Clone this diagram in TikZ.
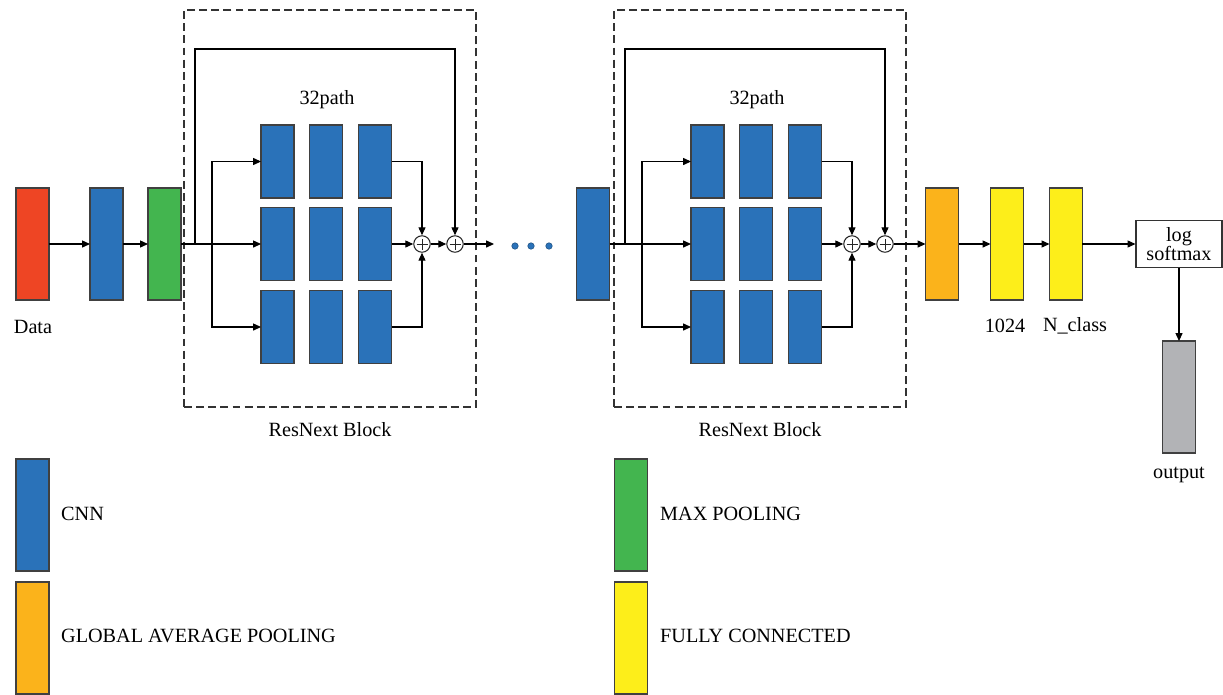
\documentclass[tikz,border=0pt]{standalone}
\usepackage{fontspec}
\setmainfont{Liberation Serif}
\usetikzlibrary{arrows.meta, positioning}
\definecolor{datared}{HTML}{EE4524}
\definecolor{cnnblue}{HTML}{2A72B9}
\definecolor{poolgreen}{HTML}{43B54F}
\definecolor{gaporange}{HTML}{FBB31B}
\definecolor{fcyellow}{HTML}{FDEE1A}
\definecolor{outgray}{HTML}{B2B3B6}
\tikzset{
  layer/.style  ={rectangle, draw=black!75, line width=0.6pt, outer sep=0pt,
                  minimum width=0.66cm, minimum height=2.24cm, inner sep=0pt},
  cell/.style   ={layer, fill=cnnblue, minimum height=1.46cm},
  sumnode/.style={circle, draw=black!85, line width=0.6pt, fill=white,
                  minimum size=0.33cm, inner sep=0pt,
                  path picture={\draw[line width=0.5pt]
                    ([xshift=-0.11cm]path picture bounding box.center) --
                    ([xshift=0.11cm]path picture bounding box.center)
                    ([yshift=-0.11cm]path picture bounding box.center) --
                    ([yshift=0.11cm]path picture bounding box.center);}},
  blockbox/.style={rectangle, draw=black!80, line width=0.7pt,
                  dash pattern=on 4.5pt off 2.4pt,
                  minimum width=5.84cm, minimum height=7.94cm, inner sep=0pt},
  softbox/.style={rectangle, draw=black!80, line width=0.6pt, align=center,
                  minimum width=1.72cm, minimum height=0.94cm, inner sep=1pt,
                  font=\fontsize{11.5}{11}\selectfont},
  dotnode/.style={circle, fill=cnnblue, draw=cnnblue!70!black, line width=0.3pt,
                  minimum size=0.13cm, inner sep=0pt},
  arr/.style    ={-{Triangle[length=4.5pt, width=4pt]}, line width=0.6pt}
}
\begin{document}
\begin{tikzpicture}[x=0.02cm, y=-0.02cm, font=\fontsize{11.5}{13}\selectfont]
  \useasboundingbox (0,0) rectangle (1223,694);
  % input chain
  \node[layer, fill=datared] (data) at (32.5,244) {};
  \node[layer, fill=cnnblue, right=0.82cm of data] (conv1) {};
  \node[layer, fill=poolgreen, right=0.5cm of conv1] (pool) {};
  \node (datalbl) at (33,327) {Data};
  \draw[arr] (data) -- (conv1);
  \draw[arr] (conv1) -- (pool);

  % two resnext blocks
  \foreach \b/\ox in {1/0, 2/430} {
    \begin{scope}[shift={(\ox,0)}]
      \node[blockbox] (blk\b) at (330,208.5) {};
      \node (blklbl\b) at (330,430) {ResNext Block};
      \node (path\b) at (327,100) {32path};
      \foreach \r/\y in {1/161.5, 2/244, 3/327}
        \foreach \c/\x in {1/277.5, 2/326, 3/375}
          \node[cell] (c\b\r\c) at (\x,\y) {};
      \node[sumnode] (sa\b) at (422,244) {};
      \node[sumnode] (sb\b) at (455,244) {};
      \coordinate (sk\b) at (195,244);
      \coordinate (br\b) at (212,244);
      \coordinate (top\b) at (195,49);
      \draw[arr] (br\b) |- (c\b11);
      \draw[arr] (br\b) |- (c\b31);
      \draw[arr] (c\b13) -| (sa\b);
      \draw[arr] (c\b23) -- (sa\b);
      \draw[arr] (c\b33) -| (sa\b);
      \draw[arr] (sa\b) -- (sb\b);
      \draw[arr] (sk\b) -- (top\b) -| (sb\b);
    \end{scope}
  }
  \draw[arr] (pool) -- (c121);

  % between the blocks
  \coordinate (gapend) at (494,244);
  \draw[arr] (sb1) -- (gapend);
  \foreach \i/\x in {1/515, 2/531, 3/549}
    \node[dotnode] (dot\i) at (\x,246) {};
  \node[layer, fill=cnnblue] (conv2) at (593,244) {};
  \draw[arr] (conv2) -- (c221);

  % head
  \node[layer, fill=gaporange] (gap) at (942,244) {};
  \node[layer, fill=fcyellow, right=0.64cm of gap] (fc1) {};
  \node[layer, fill=fcyellow, right=0.52cm of fc1] (fc2) {};
  \node[softbox] (soft) at (1179,244) {log\\softmax};
  \node[layer, fill=outgray, below=1.46cm of soft] (out) {};
  \node (fc1lbl) at (1005,326) {1024};
  \node (fc2lbl) at (1075,326) {N\_class};
  \node (outlbl) at (1179,475) {output};
  \draw[arr] (sb2) -- (gap);
  \draw[arr] (gap) -- (fc1);
  \draw[arr] (fc1) -- (fc2);
  \draw[arr] (fc2) -- (soft);
  \draw[arr] (soft) -- (out);

  % legend
  \node[layer, fill=cnnblue] (key1) at (32.5,515) {};
  \node[layer, fill=gaporange] (key2) at (32.5,638) {};
  \node[layer, fill=poolgreen] (key3) at (631,515) {};
  \node[layer, fill=fcyellow] (key4) at (631,638) {};
  \node[anchor=west] (keytxt1) at (55,514) {CNN};
  \node[anchor=west] (keytxt2) at (55,636) {GLOBAL AVERAGE POOLING};
  \node[anchor=west] (keytxt3) at (654,514) {MAX POOLING};
  \node[anchor=west] (keytxt4) at (654,636) {FULLY CONNECTED};
\end{tikzpicture}
\end{document}
